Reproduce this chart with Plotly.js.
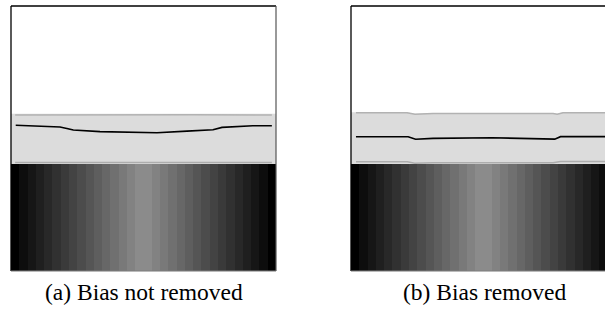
<!DOCTYPE html>
<html>
<head>
<meta charset="utf-8">
<script src="https://cdn.plot.ly/plotly-3.0.1.min.js"></script>
<style>html,body{margin:0;padding:0;overflow:hidden;background:#fff;font-family:'Liberation Serif',serif}</style>
</head>
<body>
<div id="chart" style="width:605px;height:314px"></div>
<script>
// grayscale intensity of the 32 stripes (0 = black, 255 = white)
var stripeValues = [0,13,22,31,40,49,58,67,76,85,94,103,112,121,130,139,
                    139,130,121,112,103,94,85,76,67,58,49,40,31,22,13,0];
var stripeEdges = [0,1,2,3,4,5,6,7,8,9,10,11,12,13,14,15,16,17,18,19,20,21,22,23,24,25,26,27,28,29,30,31,32];
var gradientSpan = [0, 40.4];

// panel (a): bias not removed
var bandA_x = [0, 32];
var bandA_top = [59.3, 59.3];
var upperA_x = [0.5, 12, 17, 22, 31.5];
var upperA_y = [58.85, 58.9, 59.2, 58.95, 58.85];
var lowerA_x = [0.5, 31.5];
var lowerA_y = [40.9, 40.9];
var lineA_x = [0.57, 5.92, 6.88, 7.52, 10.75, 15.58, 17.63, 21.25, 24.39, 25.48, 29.2, 31.5];
var lineA_y = [54.98, 54.34, 53.7, 53.2, 52.6, 52.1, 52.15, 52.8, 53.3, 54.2, 54.8, 54.8];

// panel (b): bias removed
var bandB_x = [0, 6.76, 7.73, 9.9, 24.4, 24.9, 25.6, 32];
var bandB_top = [59.9, 59.9, 59.3, 59.6, 59.6, 59.3, 59.9, 59.9];
var upperB_x = [0.6, 6.76, 7.73, 9.9, 24.4, 24.9, 25.6, 31.5];
var upperB_y = [59.74, 59.74, 59.13, 59.4, 59.4, 59.13, 59.74, 59.74];
var lowerB_x = [0.6, 6.8, 7.7, 9.9, 24.4, 25.3, 31.5];
var lowerB_y = [41.25, 41.25, 40.65, 40.85, 40.85, 41.35, 41.35];
var lineB_x = [0.6, 6.9, 7.8, 9.9, 17, 23.5, 24.6, 25.3, 31.5];
var lineB_y = [50.68, 50.68, 49.7, 50.05, 50.3, 49.8, 49.75, 50.7, 50.7];

var captions = ["(a) Bias not removed", "(b) Bias removed"];

function panel(xa, ya, bx, btop, ux, uy, lx, ly, mx, my) {
  var xr = xa, yr = ya;
  return [
    {type:'heatmap', x: stripeEdges, y: gradientSpan, z:[stripeValues], xaxis:xr, yaxis:yr,
     colorscale:[[0,'#000000'],[1,'#ffffff']], zmin:0, zmax:255, showscale:false, zsmooth:false, hoverinfo:'skip'},
    {type:'scatter', mode:'lines', x: bx, y: bx.map(function(){return gradientSpan[1];}), xaxis:xr, yaxis:yr,
     line:{width:0}, hoverinfo:'skip'},
    {type:'scatter', mode:'lines', x: bx, y: btop, xaxis:xr, yaxis:yr, fill:'tonexty',
     fillcolor:'#dcdcdc', line:{width:0}, hoverinfo:'skip'},
    {type:'scatter', mode:'lines', x: ux, y: uy, xaxis:xr, yaxis:yr, line:{color:'#b2b2b2', width:1.5}},
    {type:'scatter', mode:'lines', x: lx, y: ly, xaxis:xr, yaxis:yr, line:{color:'#adadad', width:1.5}},
    {type:'scatter', mode:'lines', x: mx, y: my, xaxis:xr, yaxis:yr, line:{color:'#000000', width:1.6}}
  ];
}

var data = panel('x','y', bandA_x, bandA_top, upperA_x, upperA_y, lowerA_x, lowerA_y, lineA_x, lineA_y)
  .concat(panel('x2','y2', bandB_x, bandB_top, upperB_x, upperB_y, lowerB_x, lowerB_y, lineB_x, lineB_y));

var ax = {showgrid:false, zeroline:false, showticklabels:false, ticks:'', showline:false, fixedrange:true};
function axis(extra){ return Object.assign({}, ax, extra); }

var yDom = [43/314, 308/314];
var capFont = {family:'Liberation Serif', size:23.5, color:'#000000'};
var layout = {
  width:605, height:314,
  margin:{l:0, r:0, t:0, b:0},
  paper_bgcolor:'#ffffff', plot_bgcolor:'#ffffff',
  showlegend:false,
  font:{family:'Liberation Serif'},
  xaxis: axis({domain:[11/605, 276/605], range:[0,32]}),
  yaxis: axis({domain:yDom, range:[0,100]}),
  xaxis2: axis({domain:[351/605, 1], range:[0, 32*254/265], anchor:'y2'}),
  yaxis2: axis({domain:yDom, range:[0,100], anchor:'x2'}),
  shapes: [
    {type:'line', xref:'x domain', yref:'y domain', x0:0, x1:0, y0:0, y1:1, line:{color:'#000', width:1.3}, layer:'above'},
    {type:'line', xref:'x domain', yref:'y domain', x0:0, x1:1, y0:1, y1:1, line:{color:'#000', width:1.3}, layer:'above'},
    {type:'line', xref:'x domain', yref:'y domain', x0:1, x1:1, y0:0, y1:1, line:{color:'#555', width:1.2}, layer:'above'},
    {type:'line', xref:'x domain', yref:'y domain', x0:0, x1:1, y0:0, y1:0, line:{color:'#777', width:1}, layer:'above'},
    {type:'line', xref:'x2 domain', yref:'y2 domain', x0:0, x1:0, y0:0, y1:1, line:{color:'#000', width:1.3}, layer:'above'},
    {type:'line', xref:'x2 domain', yref:'y2 domain', x0:0, x1:1, y0:1, y1:1, line:{color:'#000', width:1.3}, layer:'above'},
    {type:'line', xref:'x2 domain', yref:'y2 domain', x0:0, x1:1, y0:0, y1:0, line:{color:'#777', width:1}, layer:'above'}
  ],
  annotations: [
    {text:captions[0], xref:'paper', yref:'paper', x:143.5/605, y:(314-292)/314, xanchor:'center', yanchor:'middle',
     showarrow:false, font:capFont},
    {text:captions[1], xref:'paper', yref:'paper', x:484/605, y:(314-292)/314, xanchor:'center', yanchor:'middle',
     showarrow:false, font:capFont}
  ]
};

function draw(){ Plotly.newPlot('chart', data, layout, {displayModeBar:false}); }
if (document.fonts && document.fonts.load) {
  document.fonts.load('23px "Liberation Serif"').then(draw, draw);
} else { draw(); }
</script>
</body>
</html>
